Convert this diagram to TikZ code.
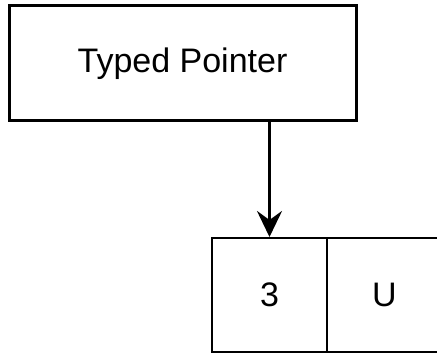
\documentclass[tikz,border=0pt]{standalone}
\usepackage{fontspec}
\setmainfont{Liberation Sans}
\usetikzlibrary{arrows.meta}
\begin{document}
\begin{tikzpicture}[x=1pt,y=1pt,
  boxtext/.style={font=\fontsize{34}{40}\selectfont},
  topbox/.style={draw=black, line width=3pt, fill=white, minimum width=347pt, minimum height=115pt, inner sep=0pt, boxtext},
  cellbox/.style={draw=black, line width=2pt, fill=white, minimum width=115pt, minimum height=114pt, inner sep=0pt, boxtext},
  link/.style={line width=3pt, -{Stealth[length=26pt, width=25pt, inset=9pt]}}]
  \useasboundingbox (0,0) rectangle (437,353);
  \clip (0,0) rectangle (437,353);
  \node[topbox] (ptr) at (182.5,289.5) {Typed Pointer};
  \node[cellbox] (val) at (269.5,58) {3};
  \node[cellbox] (tag) at (384.5,58) {U};
  \draw[link] (ptr.south -| val.north) -- (val.north);
\end{tikzpicture}
\end{document}
